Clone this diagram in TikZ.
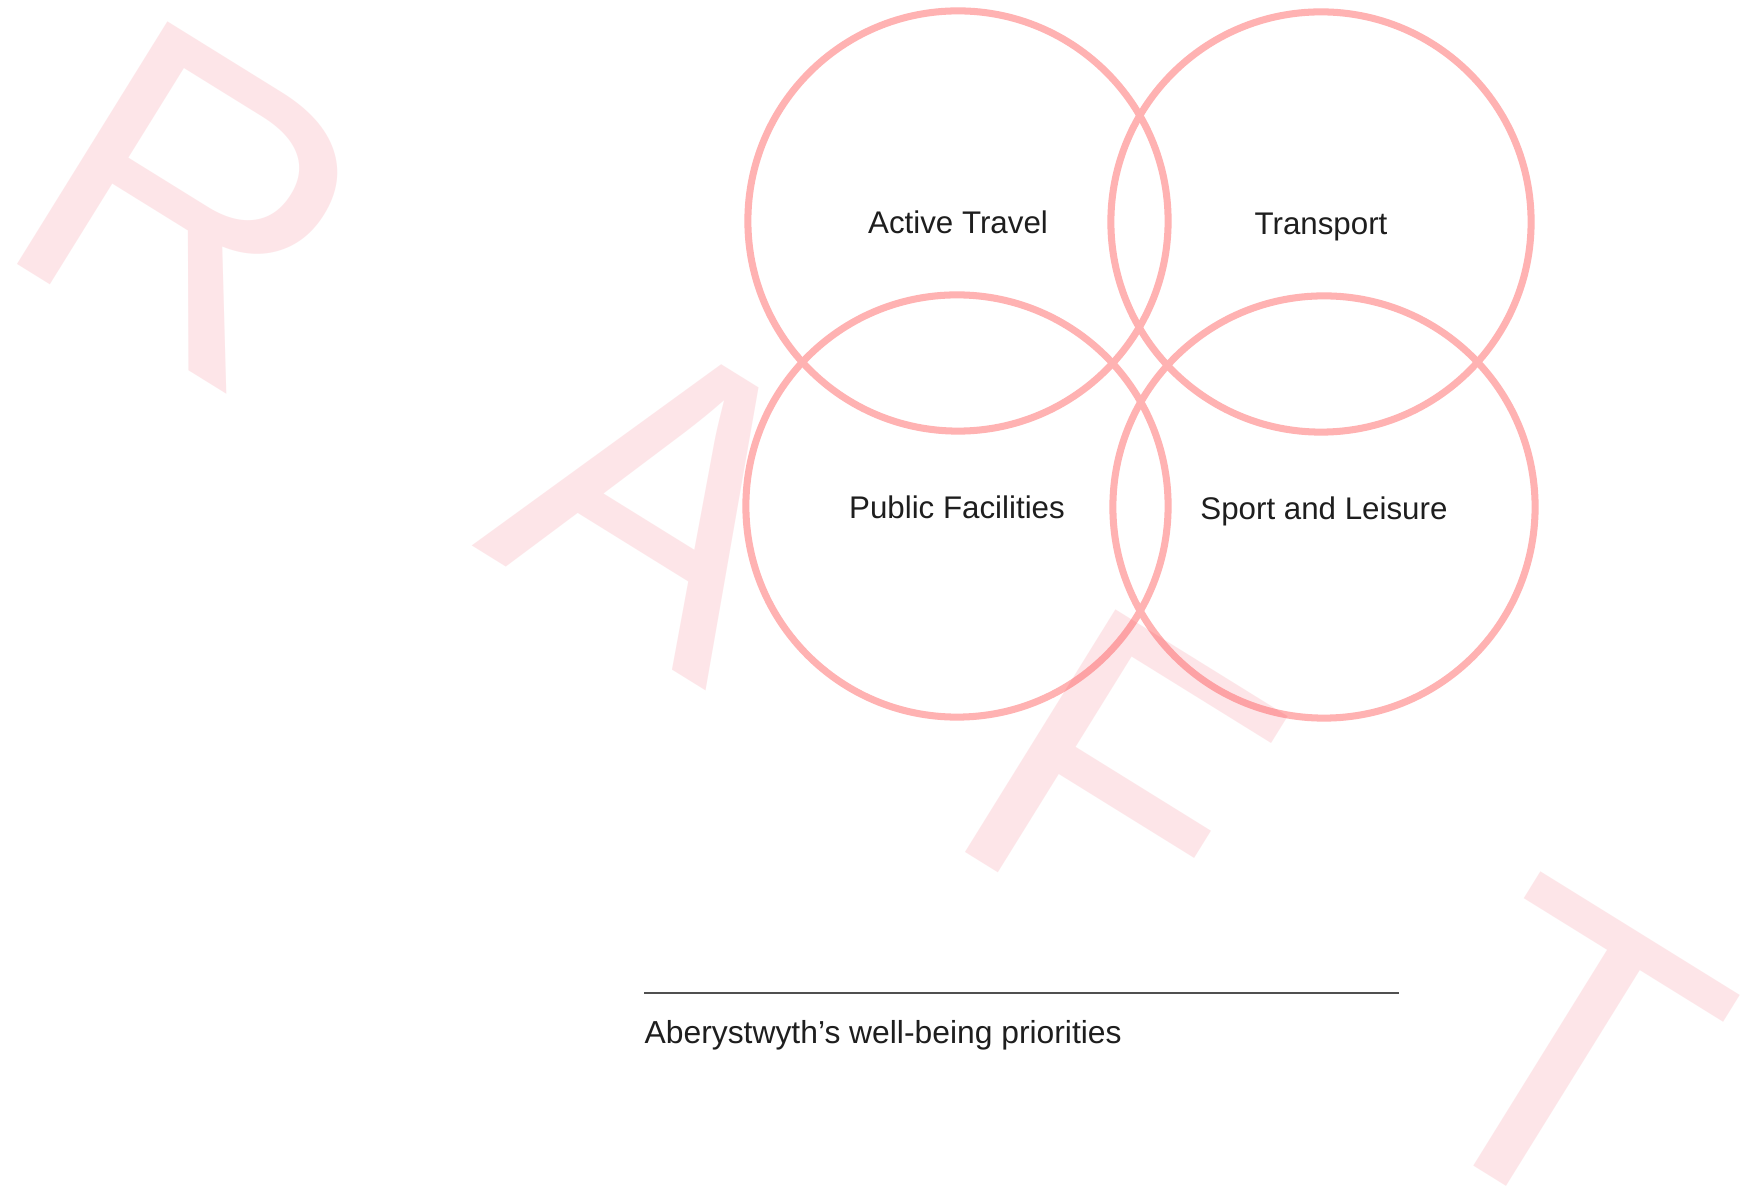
\documentclass[tikz,border=0pt]{standalone}
\usepackage{fontspec}
\setmainfont{Liberation Sans}
\definecolor{ringred}{RGB}{255,178,178}
\definecolor{draftred}{RGB}{240,60,80}
\definecolor{rulegray}{RGB}{80,80,80}
\definecolor{textgray}{RGB}{30,30,30}
\begin{document}
\begin{tikzpicture}[x=0.01cm,y=-0.01cm,
    ring/.style={circle,draw=ringred,line width=2pt,minimum size=4.2cm,inner sep=0pt,
      text height=0.716em,text depth=0pt,text=textgray,font=\fontsize{8.9}{10.7}\selectfont},
    stamp/.style={anchor=base,rotate=-31.8,text=draftred,opacity=0.13,
      font=\fontsize{118}{124}\selectfont}]
    \useasboundingbox[fill=white] (0,0) rectangle (1747,1192);
    \node[ring] (travel) at (958,221) {Active Travel};
    \node[ring] (transport) at (1321,222) {Transport};
    \node[ring,minimum size=4.22cm] (facilities) at (957,506) {Public Facilities};
    \node[ring,minimum size=4.22cm] (sport) at (1324,507) {Sport and Leisure};
    % caption under the rule
    \coordinate (rulel) at (644,993);
    \coordinate (ruler) at (1399,993);
    \draw[rulegray,line width=0.45pt] (rulel) -- (ruler);
    \node[anchor=west,inner sep=0pt,text=textgray,font=\fontsize{9.05}{11}\selectfont] (caption) at (644,1035) {Aberystwyth’s well-being priorities};
    % watermark
    \foreach \ch/\px/\py in {R/116/325,A/589/618,F/1044/901,T/1490/1176}
      \node[stamp] (wm\ch) at (\px,\py) {\ch};
  \end{tikzpicture}
\end{document}
